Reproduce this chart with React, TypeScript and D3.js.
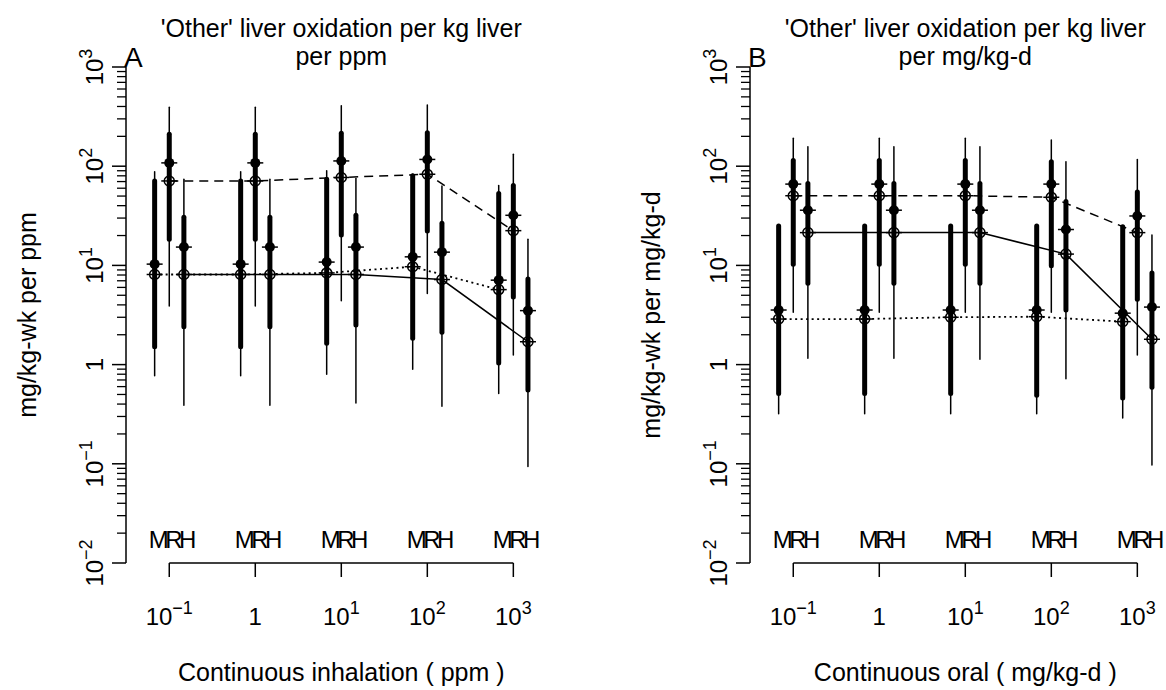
import React from "react";
import * as d3 from "d3";

// ---------- data ----------
const doses = [0.1, 1, 10, 100, 1000];
const groupLabels = ["M", "R", "H"];
const yTickExps = [-2, -1, 0, 1, 2, 3];
const xTickExps = [-1, 0, 1, 2, 3];

// Panel A (inhalation, per ppm)
const aM_thinHi = [88, 88, 90, 83, 64];
const aM_thickHi = [71, 71, 74, 80, 53];
const aM_filled = [10.3, 10.3, 10.8, 12.2, 7.1];
const aM_open = [8.1, 8.1, 8.4, 9.7, 5.7];
const aM_thickLo = [1.51, 1.51, 1.64, 1.84, 1.04];
const aM_thinLo = [0.77, 0.77, 0.8, 0.9, 0.51];

const aR_thinHi = [392, 392, 407, 414, 132];
const aR_thickHi = [210, 210, 215, 218, 64];
const aR_filled = [108, 108, 113, 117, 32];
const aR_open = [71, 71, 77, 83, 22.4];
const aR_thickLo = [18.3, 18.3, 20.2, 22.2, 4.8];
const aR_thinLo = [3.9, 3.9, 4.4, 5.2, 1.25];

const aH_thinHi = [74, 74, 75, 63, 18.3];
const aH_thickHi = [30.5, 30.5, 32, 26.6, 7.3];
const aH_filled = [15.3, 15.3, 15.3, 13.6, 3.5];
const aH_open = [8.1, 8.1, 8.1, 7.2, 1.7];
const aH_thickLo = [2.41, 2.41, 2.51, 2.12, 0.555];
const aH_thinLo = [0.39, 0.39, 0.41, 0.38, 0.094];

// Panel B (oral, per mg/kg-d)
const bM_thinHi = [25.5, 25.5, 25.5, 25.5, 25];
const bM_thickHi = [25, 25, 25, 25, 24.5];
const bM_filled = [3.55, 3.55, 3.55, 3.55, 3.3];
const bM_open = [2.88, 2.88, 3.0, 3.04, 2.71];
const bM_thickLo = [0.51, 0.51, 0.51, 0.49, 0.46];
const bM_thinLo = [0.32, 0.32, 0.32, 0.32, 0.29];

const bR_thinHi = [191, 191, 191, 184, 117];
const bR_thickHi = [114, 114, 114, 111, 55];
const bR_filled = [66, 66, 66, 66, 31.5];
const bR_open = [50.4, 50.4, 50.4, 48.6, 21.4];
const bR_thickLo = [10.3, 10.3, 10.3, 9.9, 4.55];
const bR_thinLo = [3.37, 3.37, 3.37, 3.37, 1.25];

const bH_thinHi = [157, 157, 157, 111, 20.2];
const bH_thickHi = [67, 67, 67, 44, 8.4];
const bH_filled = [36, 36, 36, 23, 3.8];
const bH_open = [21.4, 21.4, 21.4, 13.0, 1.8];
const bH_thickLo = [6.6, 6.6, 6.6, 3.55, 0.59];
const bH_thinLo = [1.16, 1.16, 1.13, 0.72, 0.097];

type Group = {
  thinHi: number[]; thickHi: number[]; filled: number[]; open: number[];
  thickLo: number[]; thinLo: number[];
};

const panels = [
  {
    letter: "A",
    title1: "'Other' liver oxidation per kg liver",
    title2: "per ppm",
    ylab: "mg/kg-wk per ppm",
    xlab: "Continuous inhalation ( ppm )",
    left: 126,
    groups: [
      { thinHi: aM_thinHi, thickHi: aM_thickHi, filled: aM_filled, open: aM_open, thickLo: aM_thickLo, thinLo: aM_thinLo },
      { thinHi: aR_thinHi, thickHi: aR_thickHi, filled: aR_filled, open: aR_open, thickLo: aR_thickLo, thinLo: aR_thinLo },
      { thinHi: aH_thinHi, thickHi: aH_thickHi, filled: aH_filled, open: aH_open, thickLo: aH_thickLo, thinLo: aH_thinLo },
    ] as Group[],
  },
  {
    letter: "B",
    title1: "'Other' liver oxidation per kg liver",
    title2: "per mg/kg-d",
    ylab: "mg/kg-wk per mg/kg-d",
    xlab: "Continuous oral ( mg/kg-d )",
    left: 750,
    groups: [
      { thinHi: bM_thinHi, thickHi: bM_thickHi, filled: bM_filled, open: bM_open, thickLo: bM_thickLo, thinLo: bM_thinLo },
      { thinHi: bR_thinHi, thickHi: bR_thickHi, filled: bR_filled, open: bR_open, thickLo: bR_thickLo, thinLo: bR_thinLo },
      { thinHi: bH_thinHi, thickHi: bH_thickHi, filled: bH_filled, open: bH_open, thickLo: bH_thickLo, thinLo: bH_thinLo },
    ] as Group[],
  },
];

// ---------- layout ----------
const W = 1166;
const H = 690;
const yTop = 67;
const yBot = 563;
const plotW = 430.6;
const groupOffsets = [-0.17, 0, 0.17];
const dashes = ["2,3.5", "9,6", null];
const FONT = "'Liberation Sans', Arial, Helvetica, sans-serif";

const yScale = d3.scaleLog().domain([0.01, 1000]).range([yBot, yTop]);

function PowLabel({ k, sup }: { k: number; sup: number }) {
  if (k === 0) return <>1</>;
  return (
    <>
      10
      <tspan dy={-11} fontSize={sup}>
        {k < 0 ? "\u2212" + -k : String(k)}
      </tspan>
    </>
  );
}

function Panel({ p }: { p: (typeof panels)[number] }) {
  const xScale = d3
    .scaleLog()
    .domain([Math.pow(10, -1.503), Math.pow(10, 3.503)])
    .range([p.left, p.left + plotW]);
  const cx = p.left + plotW / 2;
  const gx = (dose: number, g: number) => xScale(dose * Math.pow(10, groupOffsets[g]));

  const minor: number[] = [];
  for (let e = -2; e < 3; e++) for (let m = 2; m <= 9; m++) minor.push(m * Math.pow(10, e));

  return (
    <g fontFamily={FONT} fill="#000">
      {/* titles */}
      <text x={cx} y={37} textAnchor="middle" fontSize={25}>{p.title1}</text>
      <text x={cx} y={65} textAnchor="middle" fontSize={25}>{p.title2}</text>
      <text x={p.left - 2} y={67} fontSize={28}>{p.letter}</text>

      {/* y axis */}
      <line x1={p.left} x2={p.left} y1={yScale(0.01)} y2={yScale(1000)} stroke="#000" strokeWidth={1.5} />
      {yTickExps.map((e) => (
        <line key={"M" + e} x1={p.left - 14} x2={p.left} y1={yScale(Math.pow(10, e))} y2={yScale(Math.pow(10, e))} stroke="#000" strokeWidth={1.5} />
      ))}
      {minor.map((v, i) => (
        <line key={"m" + i} x1={p.left - 9} x2={p.left} y1={yScale(v)} y2={yScale(v)} stroke="#000" strokeWidth={1.3} />
      ))}
      {yTickExps.map((e) => (
        <text key={"yl" + e} transform={`translate(${p.left - 23},${yScale(Math.pow(10, e))}) rotate(-90)`} textAnchor="middle" fontSize={24}>
          <PowLabel k={e} sup={18} />
        </text>
      ))}
      <text transform={`translate(${p.left - 90},${(yTop + yBot) / 2}) rotate(-90)`} textAnchor="middle" fontSize={25}>
        {p.ylab}
      </text>

      {/* x axis */}
      <line x1={xScale(0.1)} x2={xScale(1000)} y1={yBot} y2={yBot} stroke="#000" strokeWidth={1.5} />
      {xTickExps.map((e) => (
        <g key={"xt" + e}>
          <line x1={xScale(Math.pow(10, e))} x2={xScale(Math.pow(10, e))} y1={yBot} y2={yBot + 14} stroke="#000" strokeWidth={1.5} />
          <text x={xScale(Math.pow(10, e))} y={625} textAnchor="middle" fontSize={24}>
            <PowLabel k={e} sup={18} />
          </text>
        </g>
      ))}
      <text x={cx} y={681} textAnchor="middle" fontSize={25}>{p.xlab}</text>

      {/* group labels (letters packed tightly as in the original) */}
      {doses.map((d, i) => (
        <text key={"gl" + i} x={gx(d, 1) + 1.5} y={548} textAnchor="middle" fontSize={24} letterSpacing={-3.5}>
          {groupLabels.join("")}
        </text>
      ))}

      {/* bars */}
      {p.groups.map((G, g) =>
        doses.map((d, i) => {
          const x = gx(d, g);
          return (
            <g key={"b" + g + i}>
              <line x1={x} x2={x} y1={yScale(G.thinLo[i])} y2={yScale(G.thinHi[i])} stroke="#000" strokeWidth={1.5} strokeLinecap="round" />
              <line x1={x} x2={x} y1={yScale(G.thickLo[i])} y2={yScale(G.thickHi[i])} stroke="#000" strokeWidth={5} strokeLinecap="round" />
            </g>
          );
        })
      )}

      {/* series lines through open markers */}
      {p.groups.map((G, g) => {
        const path = d3
          .line<number>()
          .x((_, i) => gx(doses[i], g))
          .y((v) => yScale(v))(G.open);
        return (
          <path key={"s" + g} d={path || ""} fill="none" stroke="#000" strokeWidth={g === 0 ? 1.8 : 1.5} strokeDasharray={dashes[g] || undefined} />
        );
      })}

      {/* markers */}
      {p.groups.map((G, g) =>
        doses.map((d, i) => {
          const x = gx(d, g);
          const yf = yScale(G.filled[i]);
          const yo = yScale(G.open[i]);
          return (
            <g key={"mk" + g + i}>
              <line x1={x - 8} x2={x + 8} y1={yf} y2={yf} stroke="#000" strokeWidth={1.5} />
              <circle cx={x} cy={yf} r={5} fill="#000" />
              <line x1={x - 8} x2={x + 8} y1={yo} y2={yo} stroke="#000" strokeWidth={1.5} />
              <circle cx={x} cy={yo} r={5} fill="none" stroke="#000" strokeWidth={1.5} />
            </g>
          );
        })
      )}
    </g>
  );
}

export default function App() {
  return (
    <svg
      width={W}
      height={H}
      viewBox={`0 0 ${W} ${H}`}
      style={{ position: "absolute", left: 0, top: 0, background: "#fff" }}
    >
      <rect width={W} height={H} fill="#fff" />
      {panels.map((p) => (
        <Panel key={p.letter} p={p} />
      ))}
    </svg>
  );
}
